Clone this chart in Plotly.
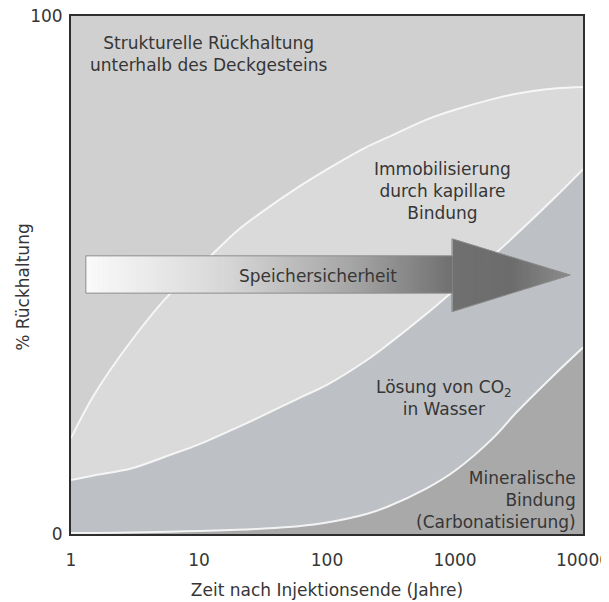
import plotly.graph_objects as go

# time after end of injection (years), log axis
years = [1, 1.5, 3, 6, 10, 20, 30, 60, 100, 200, 300, 600, 1000, 2000, 3000, 6000, 10000]

# upper boundary of each trapping band (% retention)
capillary_top = [18.5, 26.7, 37.5, 46.5, 51.5, 58.6, 61.9, 67, 70.4, 74.6, 76.6, 80, 81.9, 84, 85, 86, 86.3]
solution_top = [10.4, 11.3, 12.7, 15.3, 17.3, 20.6, 22.6, 26.2, 28.8, 33.4, 36.6, 42.5, 47.2, 53.8, 57.8, 64.9, 70.4]
mineral_top = [0.2, 0.2, 0.3, 0.45, 0.6, 0.8, 1.0, 1.5, 2.2, 3.8, 5.3, 8.8, 12.2, 18.6, 23.4, 30.8, 36]

x_ticks = [1, 10, 100, 1000, 10000]
x_labels = ["1", "10", "100", "1000", "10000"]
y_ticks = [0, 100]

FONT = "DejaVu Sans"
TXT = "#363636"

fig = go.Figure()

bands = [
    (mineral_top, "#a9a9a9", "tozeroy"),
    (solution_top, "#bdc0c4", "tonexty"),
    (capillary_top, "#dadada", "tonexty"),
]
for vals, col, fill in bands:
    fig.add_trace(go.Scatter(
        x=years, y=vals, mode="lines", fill=fill, fillcolor=col,
        line=dict(color="rgba(250,250,250,0.9)", width=2, shape="spline", smoothing=1.0),
        hoverinfo="skip", showlegend=False,
    ))

# gradient arrow ("Speichersicherheit"), drawn in paper coords as thin slices
ax0, ax_neck, ax_tip = 0.029, 0.744, 0.975
sh_top, sh_bot = 0.537, 0.465
hd_top, hd_bot, tip_y = 0.570, 0.429, 0.50

stops = [(0.029, 250), (0.30, 215), (0.55, 165), (0.744, 112), (0.86, 108), (0.975, 140)]


def grey_at(p):
    for (p0, g0), (p1, g1) in zip(stops, stops[1:]):
        if p0 <= p <= p1:
            g = g0 + (g1 - g0) * (p - p0) / (p1 - p0)
            return f"rgb({g:.0f},{g:.0f},{g:.0f})"
    return "rgb(140,140,140)"


def edges(p):
    if p <= ax_neck:
        return sh_top, sh_bot
    f = (p - ax_neck) / (ax_tip - ax_neck)
    return hd_top + (tip_y - hd_top) * f, hd_bot + (tip_y - hd_bot) * f


n = 140
step = (ax_tip - ax0) / n
for i in range(n):
    a = ax0 + i * step
    b = a + step
    if a < ax_neck < b:
        b = ax_neck
    ta, ba = edges(a)
    tb, bb = edges(b if b != ax_neck else ax_neck - 1e-9)
    col = grey_at((a + b) / 2)
    fig.add_shape(type="path", xref="paper", yref="paper",
                  path=f"M{a},{ba} L{a},{ta} L{b+0.0015},{tb} L{b+0.0015},{bb} Z",
                  fillcolor=col, line=dict(width=0), layer="above")
fig.add_shape(type="path", xref="paper", yref="paper",
              path=(f"M{ax0},{sh_bot} L{ax0},{sh_top} L{ax_neck},{sh_top} L{ax_neck},{hd_top} "
                    f"L{ax_tip},{tip_y} L{ax_neck},{hd_bot} L{ax_neck},{sh_bot} Z"),
              line=dict(color="#8c8c8c", width=1), layer="above")

labels = [
    (0.268, 0.927, "Strukturelle Rückhaltung<br>unterhalb des Deckgesteins", "center"),
    (0.726, 0.662, "Immobilisierung<br>durch kapillare<br>Bindung", "center"),
    (0.483, 0.498, "Speichersicherheit", "center"),
    (0.728, 0.263, "Lösung von CO<sub>2</sub><br>in Wasser", "center"),
    (0.99, 0.066, "Mineralische<br>Bindung<br>(Carbonatisierung)", "right"),
]
for x, y, t, al in labels:
    fig.add_annotation(x=x, y=y, xref="paper", yref="paper", text=t, showarrow=False,
                       align=al, xanchor=al, yanchor="middle",
                       font=dict(family=FONT, size=17, color=TXT))

# y axis title sits closer to the axis than plotly's standoff allows
fig.add_annotation(x=-0.094, y=0.477, xref="paper", yref="paper", text="% Rückhaltung",
                   textangle=-90, showarrow=False, xanchor="center", yanchor="middle",
                   font=dict(family=FONT, size=17, color=TXT))

fig.update_xaxes(type="log", range=[0, 4], tickvals=x_ticks, ticktext=x_labels,
                 showgrid=False, zeroline=False, automargin=False, ticklabeloverflow="allow",
                 ticks="outside", ticklen=10, tickcolor="rgba(0,0,0,0)",
                 showline=True, mirror=True, linecolor="#2e2e2e", linewidth=2,
                 tickfont=dict(family=FONT, size=17, color=TXT),
                 title=dict(text="Zeit nach Injektionsende (Jahre)",
                            font=dict(family=FONT, size=17, color=TXT), standoff=15))
fig.update_yaxes(range=[0, 100], tickvals=y_ticks, showgrid=False, zeroline=False,
                 automargin=False, ticklabeloverflow="allow",
                 ticks="outside", ticklen=3, tickcolor="rgba(0,0,0,0)",
                 showline=True, mirror=True, linecolor="#2e2e2e", linewidth=2,
                 tickfont=dict(family=FONT, size=17, color=TXT))

# page body adds an 8px offset top-left, so the figure is 8px smaller
fig.update_layout(
    width=601, height=594,
    margin=dict(l=63, r=26, t=8, b=68),
    plot_bgcolor="#d0d0d0", paper_bgcolor="white",
    showlegend=False,
)

fig.write_html("out.html")
